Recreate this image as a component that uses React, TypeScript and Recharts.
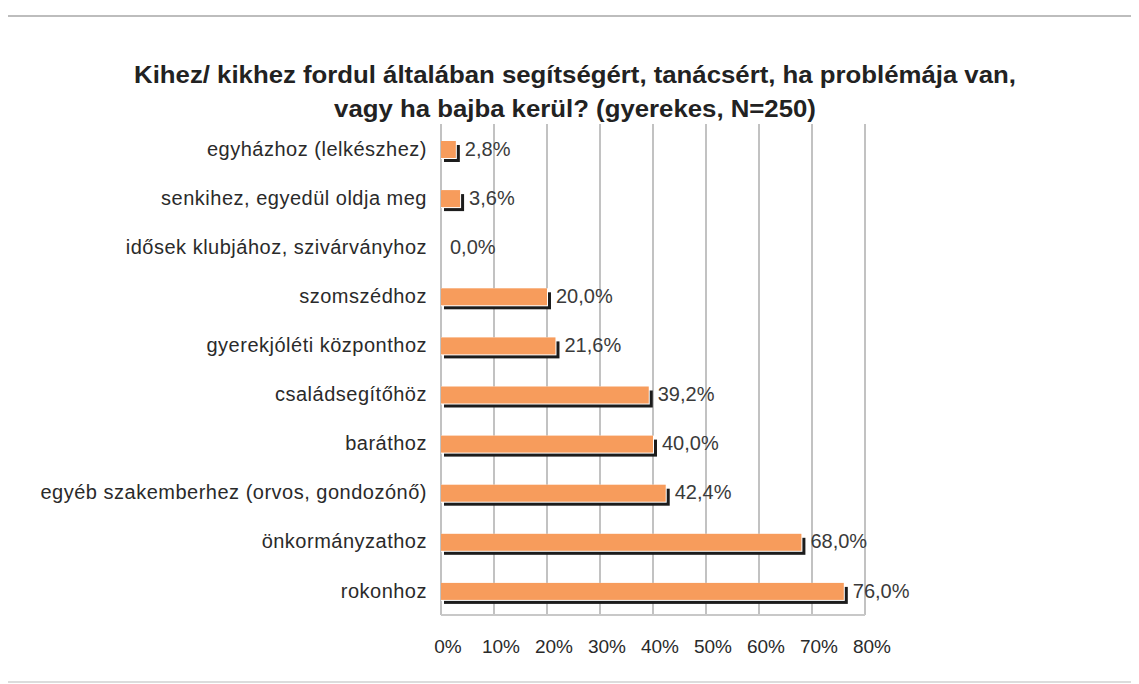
import { Bar, BarChart, CartesianGrid, LabelList, XAxis, YAxis } from "recharts";

const categories = [
  "egyházhoz (lelkészhez)",
  "senkihez, egyedül oldja meg",
  "idősek klubjához, szivárványhoz",
  "szomszédhoz",
  "gyerekjóléti központhoz",
  "családsegítőhöz",
  "baráthoz",
  "egyéb szakemberhez (orvos, gondozónő)",
  "önkormányzathoz",
  "rokonhoz",
];
const shares = [2.8, 3.6, 0, 20, 21.6, 39.2, 40, 42.4, 68, 76];
const xTicks = [0, 10, 20, 30, 40, 50, 60, 70, 80];
const titleLines = [
  "Kihez/ kikhez fordul általában segítségért, tanácsért, ha problémája van,",
  "vagy ha bajba kerül? (gyerekes, N=250)",
];

const rows = categories.map((name, i) => ({ name, value: shares[i] }));

const font = "'Liberation Sans', Arial, sans-serif";

function ShadowBar(props: any) {
  const { x, y, width, height } = props;
  if (!width || width <= 0) return null;
  const top = y + 1;
  return (
    <g>
      <rect x={x + 3} y={top + 4} width={width + 1} height={height} fill="#1c1c1c" />
      <rect x={x} y={top} width={width + 1} height={height + 1} fill="#fff" />
      <rect x={x} y={top} width={width} height={height} fill="#F79C5C" />
    </g>
  );
}

// frame drawn in the svg itself so it is never clipped
function Frame() {
  return (
    <g>
      <path d="M1139 16 H6 V682" fill="none" stroke="#bdbdbd" strokeWidth={2} />
      <path d="M6 682 H1139" fill="none" stroke="#dcdcdc" strokeWidth={2} />
    </g>
  );
}

export default function App() {
  return (
    <div
      style={{
        position: "relative",
        width: 1131,
        height: 676,
        background: "#fff",
        fontFamily: font,
      }}
    >
      <div style={{ position: "absolute", left: -8, top: -8 }}>
        <BarChart
          width={1139}
          height={684}
          data={rows}
          layout="vertical"
          margin={{ top: 124, right: 274, bottom: 29, left: 0 }}
          barSize={17}
        >
          <CartesianGrid horizontal={false} stroke="#c2c2c2" strokeWidth={2} />
          <XAxis
            type="number"
            domain={[0, 80]}
            ticks={xTicks}
            tickFormatter={(v: number) => `${v}%`}
            tickLine={false}
            tickSize={0}
            tickMargin={25}
            height={40}
            axisLine={{ stroke: "#c8c8c8", strokeWidth: 2 }}
            tick={{ fill: "#2a2a2a", fontSize: 19, fontFamily: font, dx: 7 }}
            interval={0}
          />
          <YAxis
            type="category"
            dataKey="name"
            width={441}
            axisLine={false}
            tickLine={false}
            tickSize={0}
            tickMargin={14}
            interval={0}
            tick={{ fill: "#2a2a2a", fontSize: 20, fontFamily: font, letterSpacing: 0.5 }}
          />
          <Bar dataKey="value" shape={ShadowBar} isAnimationActive={false}>
            <LabelList
              dataKey="value"
              position="right"
              offset={9}
              formatter={(v: any) => `${Number(v).toFixed(1).replace(".", ",")}%`}
              style={{ fill: "#3a3a3a", fontSize: 20, fontFamily: font }}
            />
          </Bar>
        </BarChart>
        <svg width={1139} height={684} style={{ position: "absolute", left: 0, top: 0, pointerEvents: "none" }}>
          <Frame />
        </svg>
      </div>
      <div
        style={{
          position: "absolute",
          left: -8,
          top: 50,
          width: 1150,
          textAlign: "center",
          fontSize: 23,
          fontWeight: "bold",
          lineHeight: "34px",
          color: "#222",
          transform: "scaleX(1.12)",
          transformOrigin: "575px 0",
        }}
      >
        {titleLines.map((t) => (
          <div key={t}>{t}</div>
        ))}
      </div>
    </div>
  );
}
